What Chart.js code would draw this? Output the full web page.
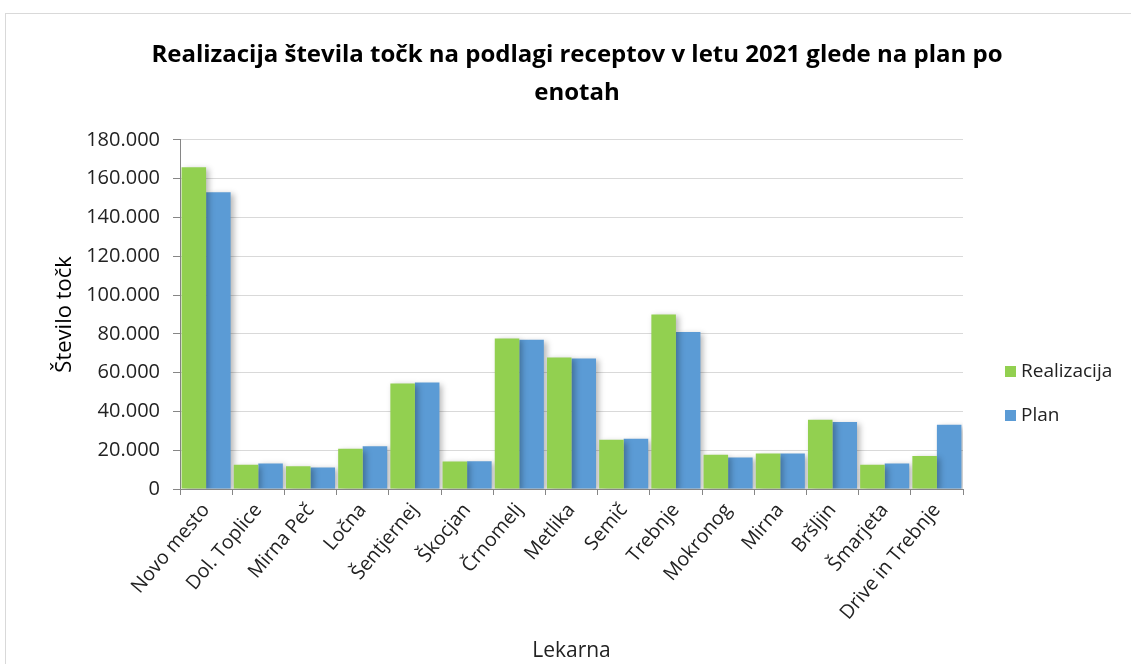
<!DOCTYPE html>
<html>
<head>
<meta charset="utf-8">
<script src="https://cdn.jsdelivr.net/npm/chart.js@4"></script>
<style>
  body { margin: 0; background: #fff; }
  #frame { position: absolute; left: 5px; top: 13px; width: 1200px; height: 700px; border: 1px solid #d9d9d9; }
  #myChart { position: absolute; left: 0; top: 0; }
  #legend { position: absolute; left: 1005px; top: 357px; font-family: "Open Sans", sans-serif; font-size: 19px; color: #222; }
  #legend div { height: 44px; display: flex; align-items: flex-start; }
  #legend span.box { display: inline-block; width: 11px; height: 11px; margin-top: 9px; margin-right: 5px; }
</style>
</head>
<body>
<div id="frame"></div>
<canvas id="myChart" width="1131" height="664"></canvas>
<div id="legend"></div>
<script>
const lekarne = ['Novo mesto', 'Dol. Toplice', 'Mirna Peč', 'Ločna', 'Šentjernej', 'Škocjan', 'Črnomelj',
    'Metlika', 'Semič', 'Trebnje', 'Mokronog', 'Mirna', 'Bršljin', 'Šmarjeta', 'Drive in Trebnje'];
const realizacija = [165900, 12500, 11700, 20800, 54400, 14200, 77600, 67800, 25400, 90000, 17700, 18300, 35700, 12500, 17000];
const plan = [153000, 13200, 11100, 22100, 54900, 14300, 76900, 67300, 25900, 80900, 16300, 18300, 34500, 13200, 33100];
const yTicks = [0, 20000, 40000, 60000, 80000, 100000, 120000, 140000, 160000, 180000];

const font = '"Open Sans", sans-serif';

function fmt(v) {
    return String(v).replace(/\B(?=(\d{3})+(?!\d))/g, '.');
}

// excel-like soft shadow behind bars
const shadow = {
    id: 'shadow',
    beforeDatasetsDraw(chart) {
        const ctx = chart.ctx;
        ctx.save();
        ctx.shadowColor = 'rgba(0,0,0,0.28)';
        ctx.shadowBlur = 6;
        ctx.shadowOffsetX = 3;
        ctx.shadowOffsetY = 2;
    },
    afterDatasetsDraw(chart) {
        chart.ctx.restore();
    }
};

const datasets = [
    { label: 'Realizacija', data: realizacija, backgroundColor: '#92d050' },
    { label: 'Plan', data: plan, backgroundColor: '#5b9bd5' }
];

const ctx = document.getElementById('myChart');
const myChart = new Chart(ctx, {
    type: 'bar',
    data: { labels: lekarne, datasets: datasets },
    plugins: [shadow],
    options: {
        responsive: false,
        animation: false,
        layout: { padding: { left: 23, right: 0, top: 0, bottom: 0 } },
        datasets: { bar: { categoryPercentage: 0.94, barPercentage: 1.0 } },
        plugins: {
            legend: { display: false },
            tooltip: { enabled: false },
            title: {
                display: true,
                text: ['Realizacija števila točk na podlagi receptov v letu 2021 glede na plan po', 'enotah'],
                color: '#000',
                font: { family: font, size: 24, weight: 'bold', lineHeight: 1.58 },
                padding: { top: 36, bottom: 28 }
            }
        },
        scales: {
            x: {
                grid: { offset: true, drawOnChartArea: false, color: '#868686', tickLength: 6 },
                border: { color: '#868686' },
                ticks: { color: '#222', font: { family: font, size: 19.5 }, minRotation: 50, maxRotation: 50, padding: 4, autoSkip: false },
                title: { display: true, text: 'Lekarna', color: '#222', font: { family: font, size: 21 }, padding: { top: 0, bottom: 0 } },
                afterFit(scale) { scale.height = 175; }
            },
            y: {
                min: 0,
                max: 180000,
                afterBuildTicks(scale) { scale.ticks = yTicks.map(v => ({ value: v })); },
                grid: { color: '#d9d9d9', tickColor: '#868686', tickLength: 7 },
                border: { color: '#868686' },
                ticks: { color: '#222', font: { family: font, size: 20 }, padding: 13, callback: v => fmt(v) },
                title: { display: true, text: 'Število točk', color: '#000', font: { family: font, size: 22 }, padding: { top: 29, bottom: 0 } },
                afterFit(scale) { scale.width = 157; }
            },
            // empty right axis that keeps room for the legend
            side: {
                position: 'right',
                min: 0,
                max: 1,
                grid: { display: false },
                border: { display: false },
                ticks: { display: false },
                afterFit(scale) { scale.width = 168; }
            }
        }
    }
});

const legend = document.getElementById('legend');
datasets.forEach(ds => {
    const row = document.createElement('div');
    row.innerHTML = '<span class="box" style="background:' + ds.backgroundColor + '"></span>' + ds.label;
    legend.appendChild(row);
});
</script>
</body>
</html>
